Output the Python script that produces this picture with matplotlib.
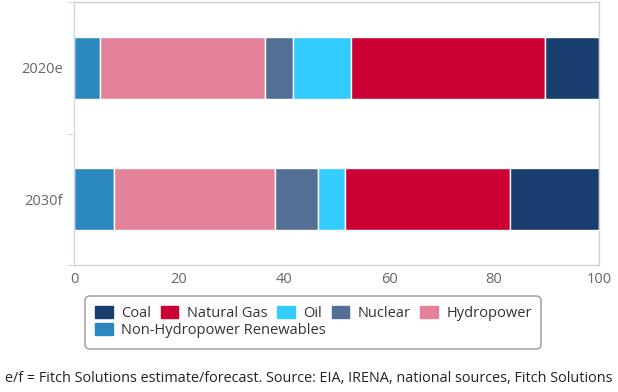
import numpy as np
import matplotlib.pyplot as plt
from matplotlib.patches import Patch, FancyBboxPatch

plt.rcParams['font.family'] = ['Open Sans', 'DejaVu Sans']

years = ['2020e', '2030f']
non_hydro = [4.9, 7.6]
hydro = [31.5, 30.7]
nuclear = [5.4, 8.1]
oil = [10.9, 5.3]
gas = [37.0, 31.4]
coal = [10.3, 16.9]

series = [
    ('Non-Hydropower Renewables', non_hydro, '#2b88bf'),
    ('Hydropower', hydro, '#e5829b'),
    ('Nuclear', nuclear, '#536f96'),
    ('Oil', oil, '#33ccff'),
    ('Natural Gas', gas, '#cc0033'),
    ('Coal', coal, '#173e6e'),
]

W, H = 618, 392
fig = plt.figure(figsize=(W / 100, H / 100), dpi=100)
ax = fig.add_axes([74 / W, 1 - 265 / H, 525 / W, 263 / H])

y = np.arange(len(years))
left = np.zeros(len(years))
for name, vals, col in series:
    ax.barh(y, vals, left=left, height=0.475, color=col, edgecolor='white', linewidth=1)
    left += np.array(vals)

ax.set_xlim(0, 100)
ax.set_ylim(1.5, -0.5)
ax.set_xticks([0, 20, 40, 60, 80, 100])
ax.set_yticks(y)
ax.set_yticklabels(years)
ax.set_yticks([-0.5, 0.5, 1.5], minor=True)
ax.tick_params(axis='y', which='major', length=0, pad=8, labelsize=10.5, labelcolor='#666666')
ax.tick_params(axis='y', which='minor', length=6, color='#ccd6eb')
ax.tick_params(axis='x', length=0, pad=5, labelsize=10.5, labelcolor='#666666')
for s in ['top', 'right', 'bottom']:
    ax.spines[s].set_color('#d0d0d0')
ax.spines['left'].set_color('#ccd6eb')
for s in ax.spines.values():
    s.set_linewidth(1)

# legend: two rows, drawn as two frameless legends inside one rounded box
order = ['Coal', 'Natural Gas', 'Oil', 'Nuclear', 'Hydropower', 'Non-Hydropower Renewables']
cmap = {n: c for n, v, c in series}
handles = [Patch(facecolor=cmap[n], edgecolor=cmap[n], label=n) for n in order]
kw = dict(loc='upper left', fontsize=10.5, frameon=False, handlelength=1.2, handleheight=0.9,
          handletextpad=0.6, columnspacing=0.65, borderpad=0, borderaxespad=0)
leg1 = fig.legend(handles=handles[:5], ncol=5, bbox_to_anchor=(95 / W, 1 - 306 / H), **kw)
leg2 = fig.legend(handles=handles[5:], ncol=1, bbox_to_anchor=(95 / W, 1 - 323 / H), **kw)
for leg in (leg1, leg2):
    for t in leg.get_texts():
        t.set_color('#333333')

box = FancyBboxPatch((85 / W, 1 - 349 / H), 456 / W, 53 / H, transform=fig.transFigure,
                     boxstyle='round,pad=0,rounding_size=0.008', mutation_aspect=W / H,
                     facecolor='none', edgecolor='#999999', linewidth=1)
fig.patches.append(box)

fig.text(5 / W, 1 - 378 / H, 'e/f = Fitch Solutions estimate/forecast. Source: EIA, IRENA, national sources, Fitch Solutions',
         fontsize=10.4, color='#222222', va='center', ha='left')

fig.savefig('out.png', dpi=100)
